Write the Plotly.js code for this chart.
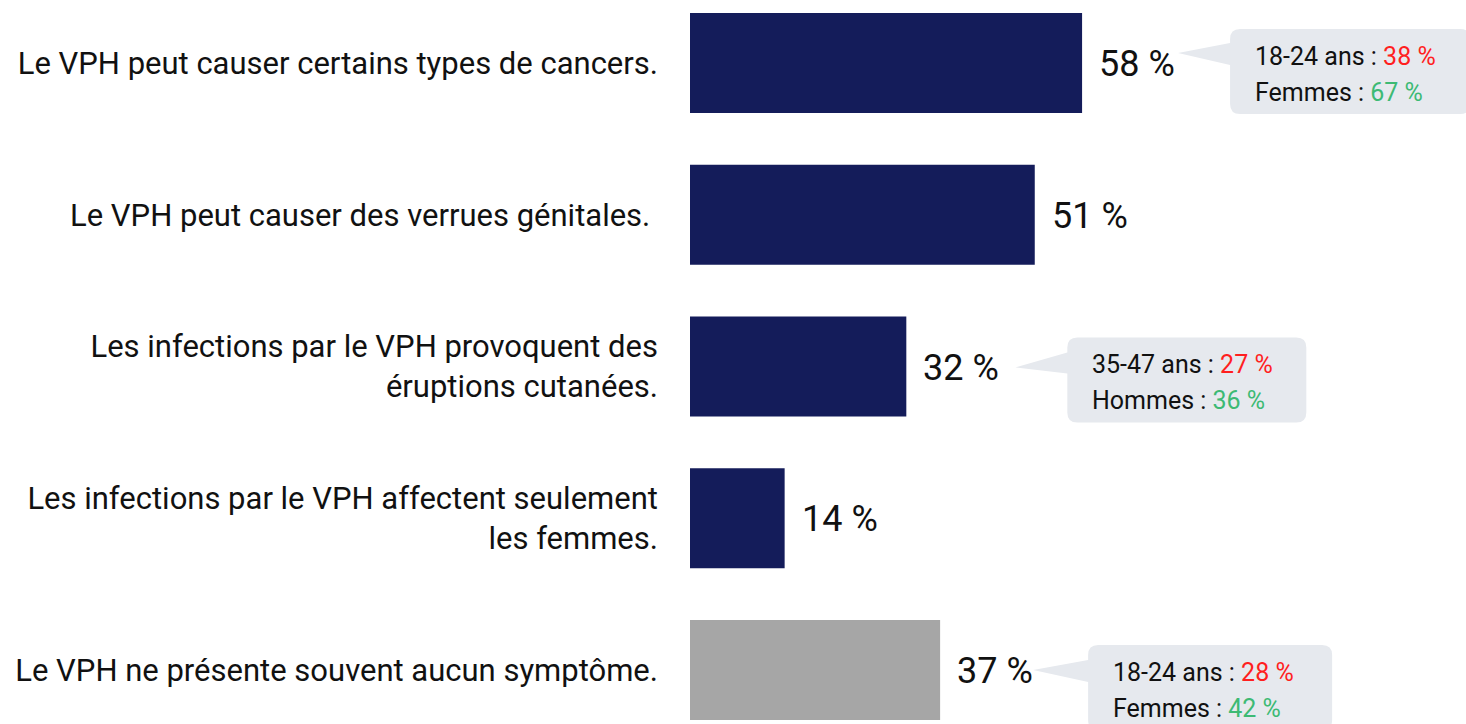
<!DOCTYPE html>
<html><head><meta charset="utf-8">
<script src="https://cdn.plot.ly/plotly-3.0.1.min.js"></script>
<style>html,body{margin:0;padding:0;background:#fff}</style>
</head><body><div id="chart" style="width:1466px;height:724px"></div>
<script>
// ---- data ----
const categories = [
  "Le VPH peut causer certains types de cancers.",
  "Le VPH peut causer des verrues génitales.\u00a0",
  "Les infections par le VPH provoquent des<br>éruptions cutanées.",
  "Les infections par le VPH affectent seulement<br>les femmes.",
  "Le VPH ne présente souvent aucun symptôme."
];
const values = [58, 51, 32, 14, 37];
const barColors = ["#141c5a", "#141c5a", "#141c5a", "#141c5a", "#a6a6a6"];
// callouts: row index, two lines (label, value)
const calloutRows = [0, 2, 4];
const calloutLabel1 = ["18-24 ans : ", "35-47 ans : ", "18-24 ans : "];
const calloutValue1 = [38, 27, 28];
const calloutLabel2 = ["Femmes : ", "Hommes : ", "Femmes : "];
const calloutValue2 = [67, 36, 42];

// ---- layout / style ----
const W = 1466, H = 724, L = 690;
const pxPerX = 6.76, pxPerY = 151.75;
const xMax = (W - L) / pxPerX;
const yTop = -63 / pxPerY, yBottom = yTop + H / pxPerY;
const FONT = "Roboto, 'Noto Sans', sans-serif";
// pixel geometry of each callout relative to bar end / row centre
const calloutGeom = [
  {left:148, w:240, top:-34, bottom:51, tipX:96, tipY:-10, b0:-20, b1:2},
  {left:161, w:239, top:-29, bottom:56, tipX:109, tipY:1, b0:-14, b1:7},
  {left:148, w:244, top:-25, bottom:60, tipX:93, tipY:0, b0:-10, b1:12}
];

const idx = categories.map((_, i) => i);
const trace = {
  type: "bar", orientation: "h",
  x: values, y: idx,
  width: 0.66,
  marker: {color: barColors},
  hoverinfo: "skip"
};

const annotations = [];
values.forEach((v, i) => {
  annotations.push({
    x: v, y: i, xref: "x", yref: "y", xanchor: "left", yanchor: "middle",
    xshift: 15, yshift: -1, showarrow: false, text: v + " %",
    font: {family: FONT, size: 36, color: "#111"}
  });
});

const shapes = [];
const dx = p => p / pxPerX, dy = p => p / pxPerY;
calloutRows.forEach((row, k) => {
  const g = calloutGeom[k];
  const v = values[row];
  const x0 = v + dx(g.left), x1 = v + dx(g.left + g.w);
  const y0 = row + dy(g.top), y1 = row + dy(g.bottom);
  const rx = dx(10), ry = dy(10);
  const tx = v + dx(g.tipX), ty = row + dy(g.tipY);
  const p = `M ${x0+rx},${y0} L ${x1-rx},${y0} Q ${x1},${y0} ${x1},${y0+ry} L ${x1},${y1-ry} Q ${x1},${y1} ${x1-rx},${y1} L ${x0+rx},${y1} Q ${x0},${y1} ${x0},${y1-ry} L ${x0},${row+dy(g.b1)} L ${tx},${ty} L ${x0},${row+dy(g.b0)} L ${x0},${y0+ry} Q ${x0},${y0} ${x0+rx},${y0} Z`;
  shapes.push({type: "path", xref: "x", yref: "y", path: p,
    fillcolor: "#e6e9ee", line: {width: 0}, layer: "above"});
  const tX = v + dx(g.left + 23);
  annotations.push({
    x: tX, y: row + dy(g.top + 27), xref: "x", yref: "y", xanchor: "left", yanchor: "middle",
    showarrow: false,
    text: calloutLabel1[k] + `<span style="color:#ff1f1f">${calloutValue1[k]} %</span>`,
    font: {family: FONT, size: 25, color: "#111"}
  });
  annotations.push({
    x: tX, y: row + dy(g.top + 63), xref: "x", yref: "y", xanchor: "left", yanchor: "middle",
    showarrow: false,
    text: calloutLabel2[k] + `<span style="color:#3dba74">${calloutValue2[k]} %</span>`,
    font: {family: FONT, size: 25, color: "#111"}
  });
});

const layout = {
  width: W, height: H,
  margin: {l: L, r: 0, t: 0, b: 0, autoexpand: false},
  paper_bgcolor: "#fff", plot_bgcolor: "#fff",
  showlegend: false,
  xaxis: {range: [0, xMax], visible: false, fixedrange: true},
  yaxis: {
    range: [yBottom, yTop], tickmode: "array", tickvals: idx, ticktext: categories,
    showgrid: false, zeroline: false, showline: false, ticks: "",
    ticklabelstandoff: 31, automargin: false,
    tickfont: {family: FONT, size: 31, color: "#111"}
  },
  shapes: shapes,
  annotations: annotations
};
Plotly.newPlot("chart", [trace], layout, {displayModeBar: false, staticPlot: true});
</script></body></html>
